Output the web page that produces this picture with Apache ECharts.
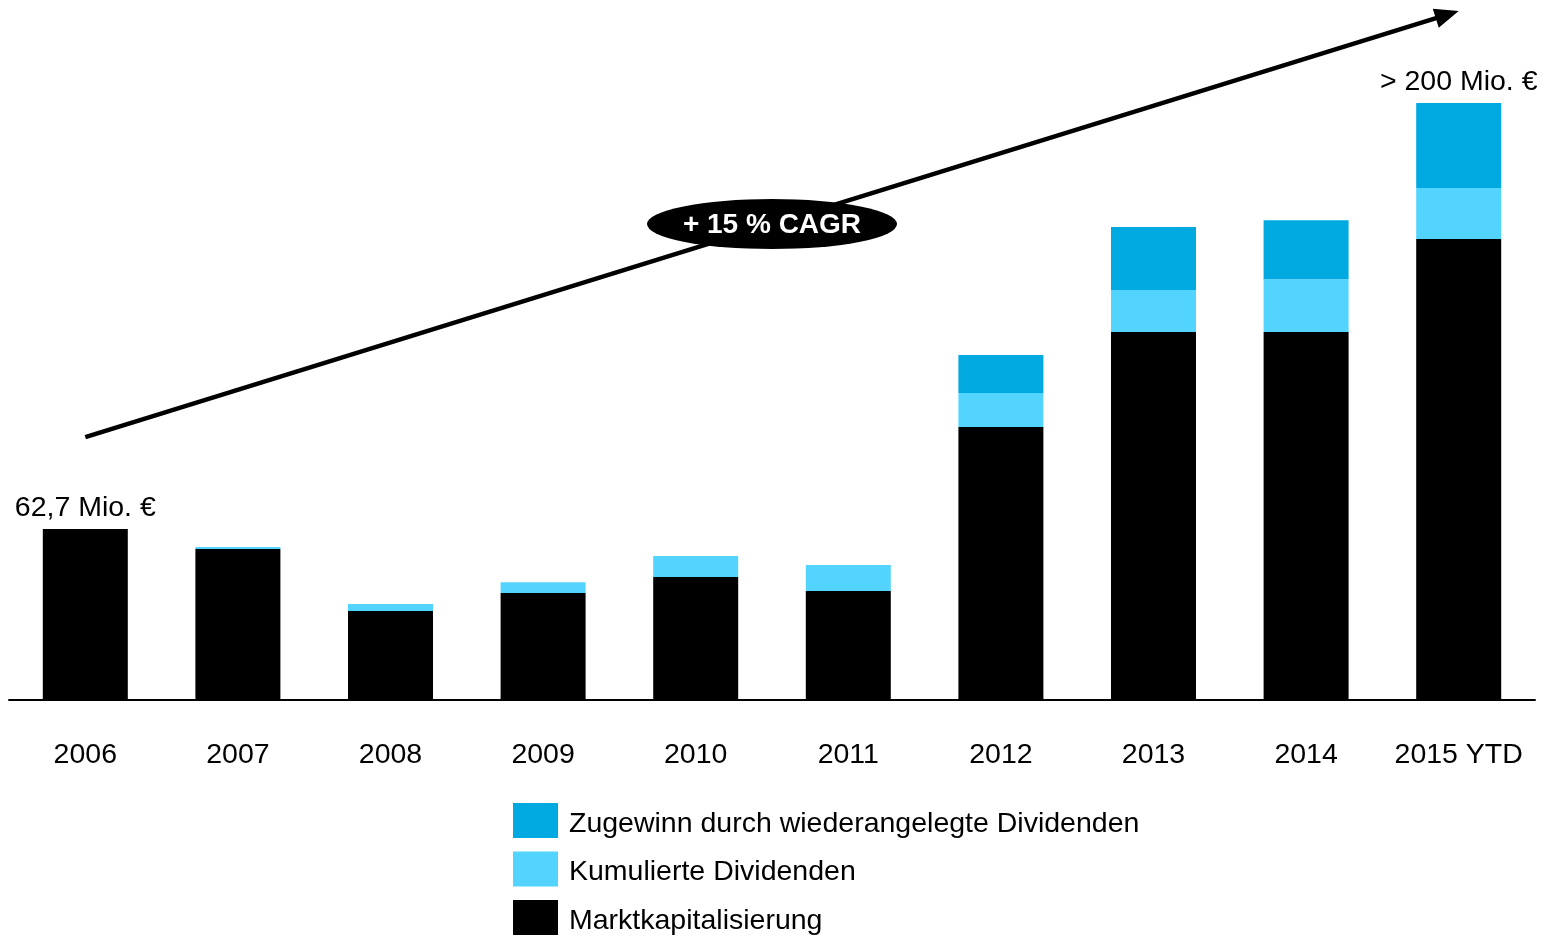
<!DOCTYPE html>
<html>
<head>
<meta charset="utf-8">
<style>
  html, body { margin: 0; padding: 0; background: #fff; }
  #chart { width: 1550px; height: 938px; }
</style>
<script src="https://cdn.jsdelivr.net/npm/echarts@6/dist/echarts.min.js"></script>
</head>
<body>
<div id="chart"></div>
<script>
// Jahre auf der x-Achse
const categories = ['2006', '2007', '2008', '2009', '2010', '2011', '2012', '2013', '2014', '2015 YTD'];

// Werte in Mio. €
const marktkapitalisierung = [62.7, 55.4, 32.6, 39.2, 45.1, 40.0, 100.1, 134.9, 134.9, 169.0];
const kumulierteDividenden = [0, 0.7, 2.6, 4.0, 7.7, 9.5, 12.5, 15.4, 19.4, 18.7];
const zugewinnDividenden = [0, 0, 0, 0, 0, -1.1, 13.9, 23.1, 21.6, 31.2];

const seriesNames = [
  'Zugewinn durch wiederangelegte Dividenden',
  'Kumulierte Dividenden',
  'Marktkapitalisierung'
];
const endLabel = '> 200 Mio. €';
const cagrText = '+ 15 % CAGR';

// Trendpfeil: Start- und Endpunkt in Achsenwerten [Kategorie-Index, Wert]
const arrowStart = [0, 96.4];
const arrowEnd = [9, 252.6];

const FONT = '"Liberation Sans", Arial, sans-serif';
const FS = 28.5;
const C_DARK = '#00A9E0';
const C_LIGHT = '#52D4FF';
const C_BLACK = '#000000';

const chart = echarts.init(document.getElementById('chart'), null, { renderer: 'canvas' });

const labelStyle = {
  show: true,
  position: 'top',
  distance: 6,
  color: '#000',
  fontFamily: FONT,
  fontSize: FS
};

const marktData = marktkapitalisierung.map((v, i) => i === 0
  ? { value: v, label: Object.assign({}, labelStyle, {
      formatter: p => String(p.value).replace('.', ',') + ' Mio. €'
    }) }
  : v);

const zugewinnData = zugewinnDividenden.map((v, i) => i === categories.length - 1
  ? { value: v, label: Object.assign({}, labelStyle, { formatter: endLabel }) }
  : v);

const option = {
  animation: false,
  backgroundColor: '#fff',
  textStyle: { fontFamily: FONT },
  grid: { left: 9, right: 15, top: 100, bottom: 238, containLabel: false },
  legend: {
    orient: 'vertical',
    left: 513,
    top: 803,
    height: 300,
    padding: 0,
    itemWidth: 45,
    itemHeight: 35,
    itemGap: 13,
    icon: 'rect',
    selectedMode: false,
    data: seriesNames,
    formatter: name => '{t|' + name + '}',
    textStyle: {
      fontFamily: FONT, fontSize: FS, color: '#000',
      rich: { t: { fontFamily: FONT, fontSize: FS, color: '#000', padding: [7, 0, 0, 6] } }
    }
  },
  xAxis: {
    type: 'category',
    data: categories,
    z: 5,
    axisLine: { show: true, lineStyle: { color: '#000', width: 2 } },
    axisTick: { show: false },
    axisLabel: { interval: 0, color: '#000', fontFamily: FONT, fontSize: FS, margin: 41 }
  },
  yAxis: {
    type: 'value',
    min: 0,
    max: 220,
    show: false,
    splitLine: { show: false }
  },
  series: [
    {
      name: seriesNames[2],
      type: 'bar',
      stack: 'total',
      barWidth: 85,
      itemStyle: { color: C_BLACK },
      data: marktData
    },
    {
      name: seriesNames[1],
      type: 'bar',
      stack: 'total',
      barWidth: 85,
      itemStyle: { color: C_LIGHT },
      data: kumulierteDividenden
    },
    {
      name: seriesNames[0],
      type: 'bar',
      stack: 'total',
      barWidth: 85,
      itemStyle: { color: C_DARK },
      data: zugewinnData
    }
  ]
};

chart.setOption(option);

// Trendpfeil mit CAGR-Ellipse, an die Achsen gebunden
function drawArrow() {
  const p0 = chart.convertToPixel({ gridIndex: 0 }, arrowStart);
  const p1 = chart.convertToPixel({ gridIndex: 0 }, arrowEnd);
  const dx = p1[0] - p0[0], dy = p1[1] - p0[1];
  const len = Math.sqrt(dx * dx + dy * dy);
  const ux = dx / len, uy = dy / len;
  const nx = -uy, ny = ux;
  const headLen = 24, headHalf = 10;
  const base = [p1[0] - ux * headLen, p1[1] - uy * headLen];
  const mid = [(p0[0] + p1[0]) / 2, (p0[1] + p1[1]) / 2];

  chart.setOption({
    graphic: [
      {
        type: 'line',
        z: 10,
        shape: { x1: p0[0], y1: p0[1], x2: base[0] + ux * 2, y2: base[1] + uy * 2 },
        style: { stroke: '#000', lineWidth: 4.5 }
      },
      {
        type: 'polygon',
        z: 10,
        shape: { points: [
          [p1[0], p1[1]],
          [base[0] + nx * headHalf, base[1] + ny * headHalf],
          [base[0] - nx * headHalf, base[1] - ny * headHalf]
        ] },
        style: { fill: '#000' }
      },
      {
        type: 'circle',
        z: 11,
        x: mid[0],
        y: mid[1],
        scaleX: 5,
        shape: { cx: 0, cy: 0, r: 25 },
        style: { fill: '#000' }
      },
      {
        type: 'text',
        z: 12,
        x: mid[0],
        y: mid[1] + 1,
        style: {
          text: cagrText,
          fill: '#fff',
          font: 'bold 28px ' + FONT,
          align: 'center',
          verticalAlign: 'middle'
        }
      }
    ]
  });
}
drawArrow();
</script>
</body>
</html>
